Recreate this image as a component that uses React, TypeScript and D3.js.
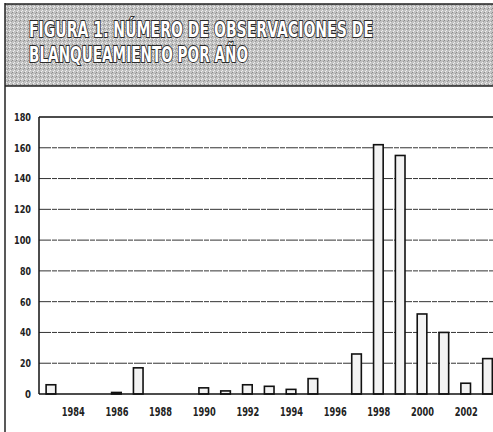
import React from "react";
import * as d3 from "d3";

const years = [1983,1984,1985,1986,1987,1988,1989,1990,1991,1992,1993,1994,1995,1996,1997,1998,1999,2000,2001,2002,2003,2004];
const counts = [6,0,0,1,17,0,0,4,2,6,5,3,10,0,26,162,155,52,40,7,23,0];
const yTicks = [0,20,40,60,80,100,120,140,160,180];
const xTickYears = [1984,1986,1988,1990,1992,1994,1996,1998,2000,2002];
const titleLines = ["FIGURA 1. NÚMERO DE OBSERVACIONES DE", "BLANQUEAMIENTO POR AÑO"];

const W = 493, H = 432;
const plotLeft = 39, plotTop = 117, plotBottom = 394;
const step = 21.83;

export default function App() {
  const x = d3.scaleBand<number>()
    .domain(years)
    .range([40, 40 + years.length * step])
    .paddingInner(0.56)
    .paddingOuter(0.28);
  const y = d3.scaleLinear().domain([0, 180]).range([plotBottom, plotTop]);
  const font = "'DejaVu Sans Condensed', 'Liberation Sans Narrow', 'DejaVu Sans', sans-serif";

  return (
    <svg width={W} height={H} style={{ position: "absolute", left: 0, top: 0, background: "#fff" }}>
      <defs>
        <pattern id="halftone" width="4" height="4" patternUnits="userSpaceOnUse">
          <rect width="4" height="4" fill="#c2c2c2" />
          <rect x="0" y="0" width="1" height="1" fill="#8a8a8a" />
          <rect x="2" y="2" width="1" height="1" fill="#eeeeee" />
          <rect x="3" y="1" width="1" height="1" fill="#9a9a9a" />
          <rect x="1" y="3" width="1" height="1" fill="#f2f2f2" />
        </pattern>
      </defs>
      {/* banner */}
      <rect x={5} y={4} width={W - 5} height={82} fill="url(#halftone)" />
      <line x1={5} x2={W} y1={4} y2={4} stroke="#222" strokeWidth={1.5} />
      <line x1={5} x2={W} y1={86} y2={86} stroke="#222" strokeWidth={1.5} />
      <line x1={5} x2={5} y1={3} y2={H} stroke="#222" strokeWidth={1.5} />
      {titleLines.map((t, i) => (
        <text key={i} x={29} y={37 + i * 25} fontFamily={font} fontWeight="bold" fontSize={20.5}
          fill="#fff" stroke="#2a2a2a" strokeWidth={2} paintOrder="stroke"
          textLength={i === 0 ? 344 : 219} lengthAdjust="spacingAndGlyphs">{t}</text>
      ))}
      {/* gridlines */}
      {yTicks.filter(v => v > 0).map(v => (
        <line key={v} x1={plotLeft} x2={W} y1={y(v)} y2={y(v)}
          stroke={v === 180 ? "#111" : "#333"} strokeWidth={v === 180 ? 1.4 : 1}
          strokeDasharray={v === 180 ? undefined : "12 1 5 1"} />
      ))}
      {/* bars */}
      {years.map((yr, i) => counts[i] > 0 ? (
        <rect key={yr} x={x(yr)!} y={y(counts[i])} width={x.bandwidth()} height={y(0) - y(counts[i])}
          fill="#f3f3f3" stroke="#111" strokeWidth={1.6} />
      ) : null)}
      {/* axes */}
      <line x1={plotLeft} x2={plotLeft} y1={plotTop} y2={plotBottom} stroke="#111" strokeWidth={1.5} />
      <line x1={plotLeft} x2={W} y1={plotBottom} y2={plotBottom} stroke="#111" strokeWidth={1.5} />
      {yTicks.map(v => (
        <text key={v} x={31} y={y(v)} dy="0.35em" textAnchor="end" fontFamily={font} fontWeight="bold"
          fontSize={11} fill="#222" textLength={v >= 100 ? 17 : v > 0 ? 11 : 6} lengthAdjust="spacingAndGlyphs">{v}</text>
      ))}
      {xTickYears.map(yr => (
        <text key={yr} x={x(yr)! + x.bandwidth() / 2 + 0.5} y={412} dy="0.35em" textAnchor="middle" fontFamily={font}
          fontWeight="bold" fontSize={12.5} fill="#222" textLength={23} lengthAdjust="spacingAndGlyphs">{yr}</text>
      ))}
    </svg>
  );
}
